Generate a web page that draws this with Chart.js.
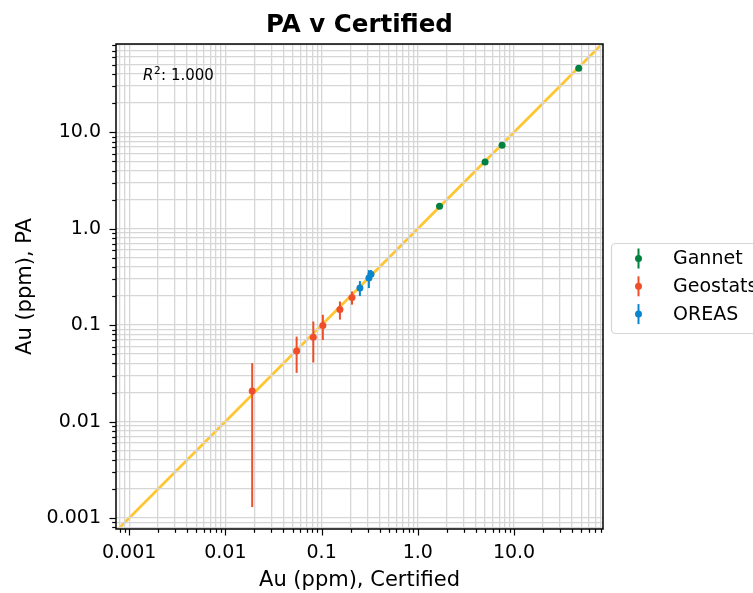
<!DOCTYPE html>
<html><head><meta charset="utf-8">
<script src="https://cdn.jsdelivr.net/npm/chart.js@4.4.0/dist/chart.umd.min.js"></script>
<style>html,body{margin:0;padding:0;background:#fff;}</style>
</head><body>
<canvas id="c" width="753" height="593"></canvas>
<script>
// ---- data ----
const seriesNames = ['Gannet', 'Geostats', 'OREAS'];
const seriesColors = ['#00813f', '#f04e2b', '#0a86cf'];
const gannetCertified = [1.68, 5.0, 7.5, 47.0];
const gannetPA = [1.71, 4.9, 7.3, 46.0];
const gannetErr = [0.03, 0.08, 0.1, 0.6];
const geostatsCertified = [0.019, 0.055, 0.082, 0.103, 0.155, 0.207];
const geostatsPA = [0.0208, 0.054, 0.075, 0.099, 0.145, 0.193];
const geostatsErr = [0.0195, 0.022, 0.034, 0.029, 0.031, 0.030];
const oreasCertified = [0.25, 0.31, 0.326];
const oreasPA = [0.243, 0.307, 0.337];
const oreasErr = [0.043, 0.065, 0.035];
const refLine = [0.0005, 100];
const majorTicks = [0.001, 0.01, 0.1, 1, 10];
const majorTickLabels = ['0.001', '0.01', '0.1', '1.0', '10.0'];
const minorMultipliers = [1, 2, 3, 4, 5, 6, 7, 8, 9];
const xRange = [0.00073, 84];
const yRange = [0.00077, 82];
const r2Value = '1.000';

const FONT = 'DejaVu Sans';
const GRID = '#d6d6d6';

function buildTicks(range) {
  const t = [];
  for (let e = -5; e <= 2; e++) {
    for (const m of minorMultipliers) {
      const v = Number((m * Math.pow(10, e)).toPrecision(12));
      if (v >= range[0] && v <= range[1]) t.push(v);
    }
  }
  return t;
}
function majorIndex(v) { return majorTicks.findIndex(m => Math.abs(v / m - 1) < 1e-9); }
const pts = (xs, ys, es) => xs.map((x, i) => ({ x: x, y: ys[i], err: es[i] }));

const seriesData = [
  pts(gannetCertified, gannetPA, gannetErr),
  pts(geostatsCertified, geostatsPA, geostatsErr),
  pts(oreasCertified, oreasPA, oreasErr)
];

const datasets = seriesNames.map((n, i) => ({
  label: n, data: seriesData[i], errors: true,
  backgroundColor: seriesColors[i], borderColor: seriesColors[i],
  pointRadius: 3.5, pointBorderWidth: 0, pointHoverRadius: 3.5, showLine: false
}));
datasets.push({
  label: 'y=x', type: 'line', refLine: true,
  data: refLine.map(v => ({ x: v, y: v })),
  borderColor: '#ffc634', borderWidth: 2.8, pointRadius: 0, fill: false, tension: 0
});

const layerPlugin = {
  id: 'layers',
  beforeDraw(chart) {
    const ctx = chart.ctx, a = chart.chartArea;
    chart.data.datasets.forEach((ds, i) => {
      if (!ds.refLine) return;
      const meta = chart.getDatasetMeta(i);
      ctx.save();
      ctx.beginPath(); ctx.rect(a.left, a.top, a.right - a.left, a.bottom - a.top); ctx.clip();
      meta.dataset.draw(ctx, a);
      ctx.restore();
    });
  },
  beforeDatasetDraw(chart, args) {
    if (chart.data.datasets[args.index].refLine) return false;
  },
  beforeDatasetsDraw(chart) {
    const ctx = chart.ctx, a = chart.chartArea, xs = chart.scales.x, ys = chart.scales.y;
    chart.data.datasets.forEach(ds => {
      if (!ds.errors) return;
      ctx.save();
      ctx.beginPath(); ctx.rect(a.left, a.top, a.right - a.left, a.bottom - a.top); ctx.clip();
      ctx.strokeStyle = ds.borderColor; ctx.lineWidth = 2;
      ds.data.forEach(p => {
        const px = xs.getPixelForValue(p.x);
        const lo = p.y - p.err > 0 ? p.y - p.err : yRange[0] * 0.1;
        ctx.beginPath();
        ctx.moveTo(px, ys.getPixelForValue(lo));
        ctx.lineTo(px, ys.getPixelForValue(p.y + p.err));
        ctx.stroke();
      });
      ctx.restore();
    });
  },
  afterDraw(chart) {
    const ctx = chart.ctx, a = chart.chartArea, xs = chart.scales.x, ys = chart.scales.y;
    ctx.save();
    // tick marks
    ctx.strokeStyle = '#000'; ctx.lineWidth = 1.2;
    xs.ticks.forEach(t => {
      const px = Math.round(xs.getPixelForValue(t.value)) + 0.5;
      const len = majorIndex(t.value) >= 0 ? 6.5 : 3.8;
      ctx.beginPath(); ctx.moveTo(px, a.bottom); ctx.lineTo(px, a.bottom + len); ctx.stroke();
    });
    ys.ticks.forEach(t => {
      const py = Math.round(ys.getPixelForValue(t.value)) + 0.5;
      const len = majorIndex(t.value) >= 0 ? 6.5 : 3.8;
      ctx.beginPath(); ctx.moveTo(a.left, py); ctx.lineTo(a.left - len, py); ctx.stroke();
    });
    // frame
    ctx.lineWidth = 1.5;
    ctx.strokeRect(a.left, a.top, a.right - a.left, a.bottom - a.top);
    // R^2 annotation
    let x = a.left + 27, y = a.top + 36;
    ctx.fillStyle = '#000'; ctx.textBaseline = 'alphabetic'; ctx.textAlign = 'left';
    ctx.font = 'italic 15px ' + FONT; ctx.fillText('R', x, y); x += ctx.measureText('R').width + 0.5;
    ctx.font = '10.5px ' + FONT; ctx.fillText('2', x, y - 6); x += ctx.measureText('2').width + 0.5;
    ctx.font = '15px ' + FONT; ctx.fillText(': ' + r2Value, x, y);
    // legend
    const lx = 611.5, ly = 243.5, lw = 170, lh = 90;
    ctx.beginPath();
    if (ctx.roundRect) ctx.roundRect(lx, ly, lw, lh, 4); else ctx.rect(lx, ly, lw, lh);
    ctx.fillStyle = 'rgba(255,255,255,0.8)'; ctx.fill();
    ctx.strokeStyle = '#d6d6d6'; ctx.lineWidth = 1.2; ctx.stroke();
    ctx.font = '19px ' + FONT; ctx.textBaseline = 'middle';
    chart.data.datasets.filter(d => !d.refLine).forEach((d, i) => {
      const cy = ly + 15 + i * 27.8, mx = 638.5;
      ctx.strokeStyle = d.borderColor; ctx.lineWidth = 2;
      ctx.beginPath(); ctx.moveTo(mx, cy - 10); ctx.lineTo(mx, cy + 10); ctx.stroke();
      ctx.fillStyle = d.backgroundColor;
      ctx.beginPath(); ctx.arc(mx, cy, 3.5, 0, Math.PI * 2); ctx.fill();
      ctx.fillStyle = '#000';
      ctx.fillText(d.label, 673, cy + 1);
    });
    ctx.restore();
  }
};

function axis(range, title, isX) {
  return {
    type: 'logarithmic', min: range[0], max: range[1],
    afterBuildTicks: s => { s.ticks = buildTicks(range).map(v => ({ value: v })); },
    afterFit: s => { if (isX) s.height = 64; else s.width = 116; },
    grid: { color: GRID, lineWidth: 1.3, drawTicks: false },
    border: { display: false },
    ticks: {
      autoSkip: false, maxRotation: 0, minRotation: 0, padding: isX ? 13 : 15,
      color: '#000', font: { family: FONT, size: 19 },
      callback: v => { const i = majorIndex(v); return i >= 0 ? majorTickLabels[i] : ''; }
    },
    title: {
      display: true, text: title, color: '#000', font: { family: FONT, size: 21 },
      padding: isX ? { top: 0, bottom: 0 } : { top: 12.6, bottom: 0 }
    }
  };
}

new Chart(document.getElementById('c'), {
  type: 'scatter',
  data: { datasets: datasets },
  options: {
    responsive: false, animation: false, devicePixelRatio: 1,
    layout: { padding: { left: 0, right: 150, top: 0, bottom: 0 } },
    plugins: {
      legend: { display: false }, tooltip: { enabled: false },
      title: {
        display: true, text: 'PA v Certified', fullSize: false, color: '#000',
        font: { family: FONT, size: 24.5, weight: 'bold' }, padding: { top: 10.5, bottom: 4.1 }
      }
    },
    scales: { x: axis(xRange, 'Au (ppm), Certified', true), y: axis(yRange, 'Au (ppm), PA', false) }
  },
  plugins: [layerPlugin]
});
</script>
</body></html>
